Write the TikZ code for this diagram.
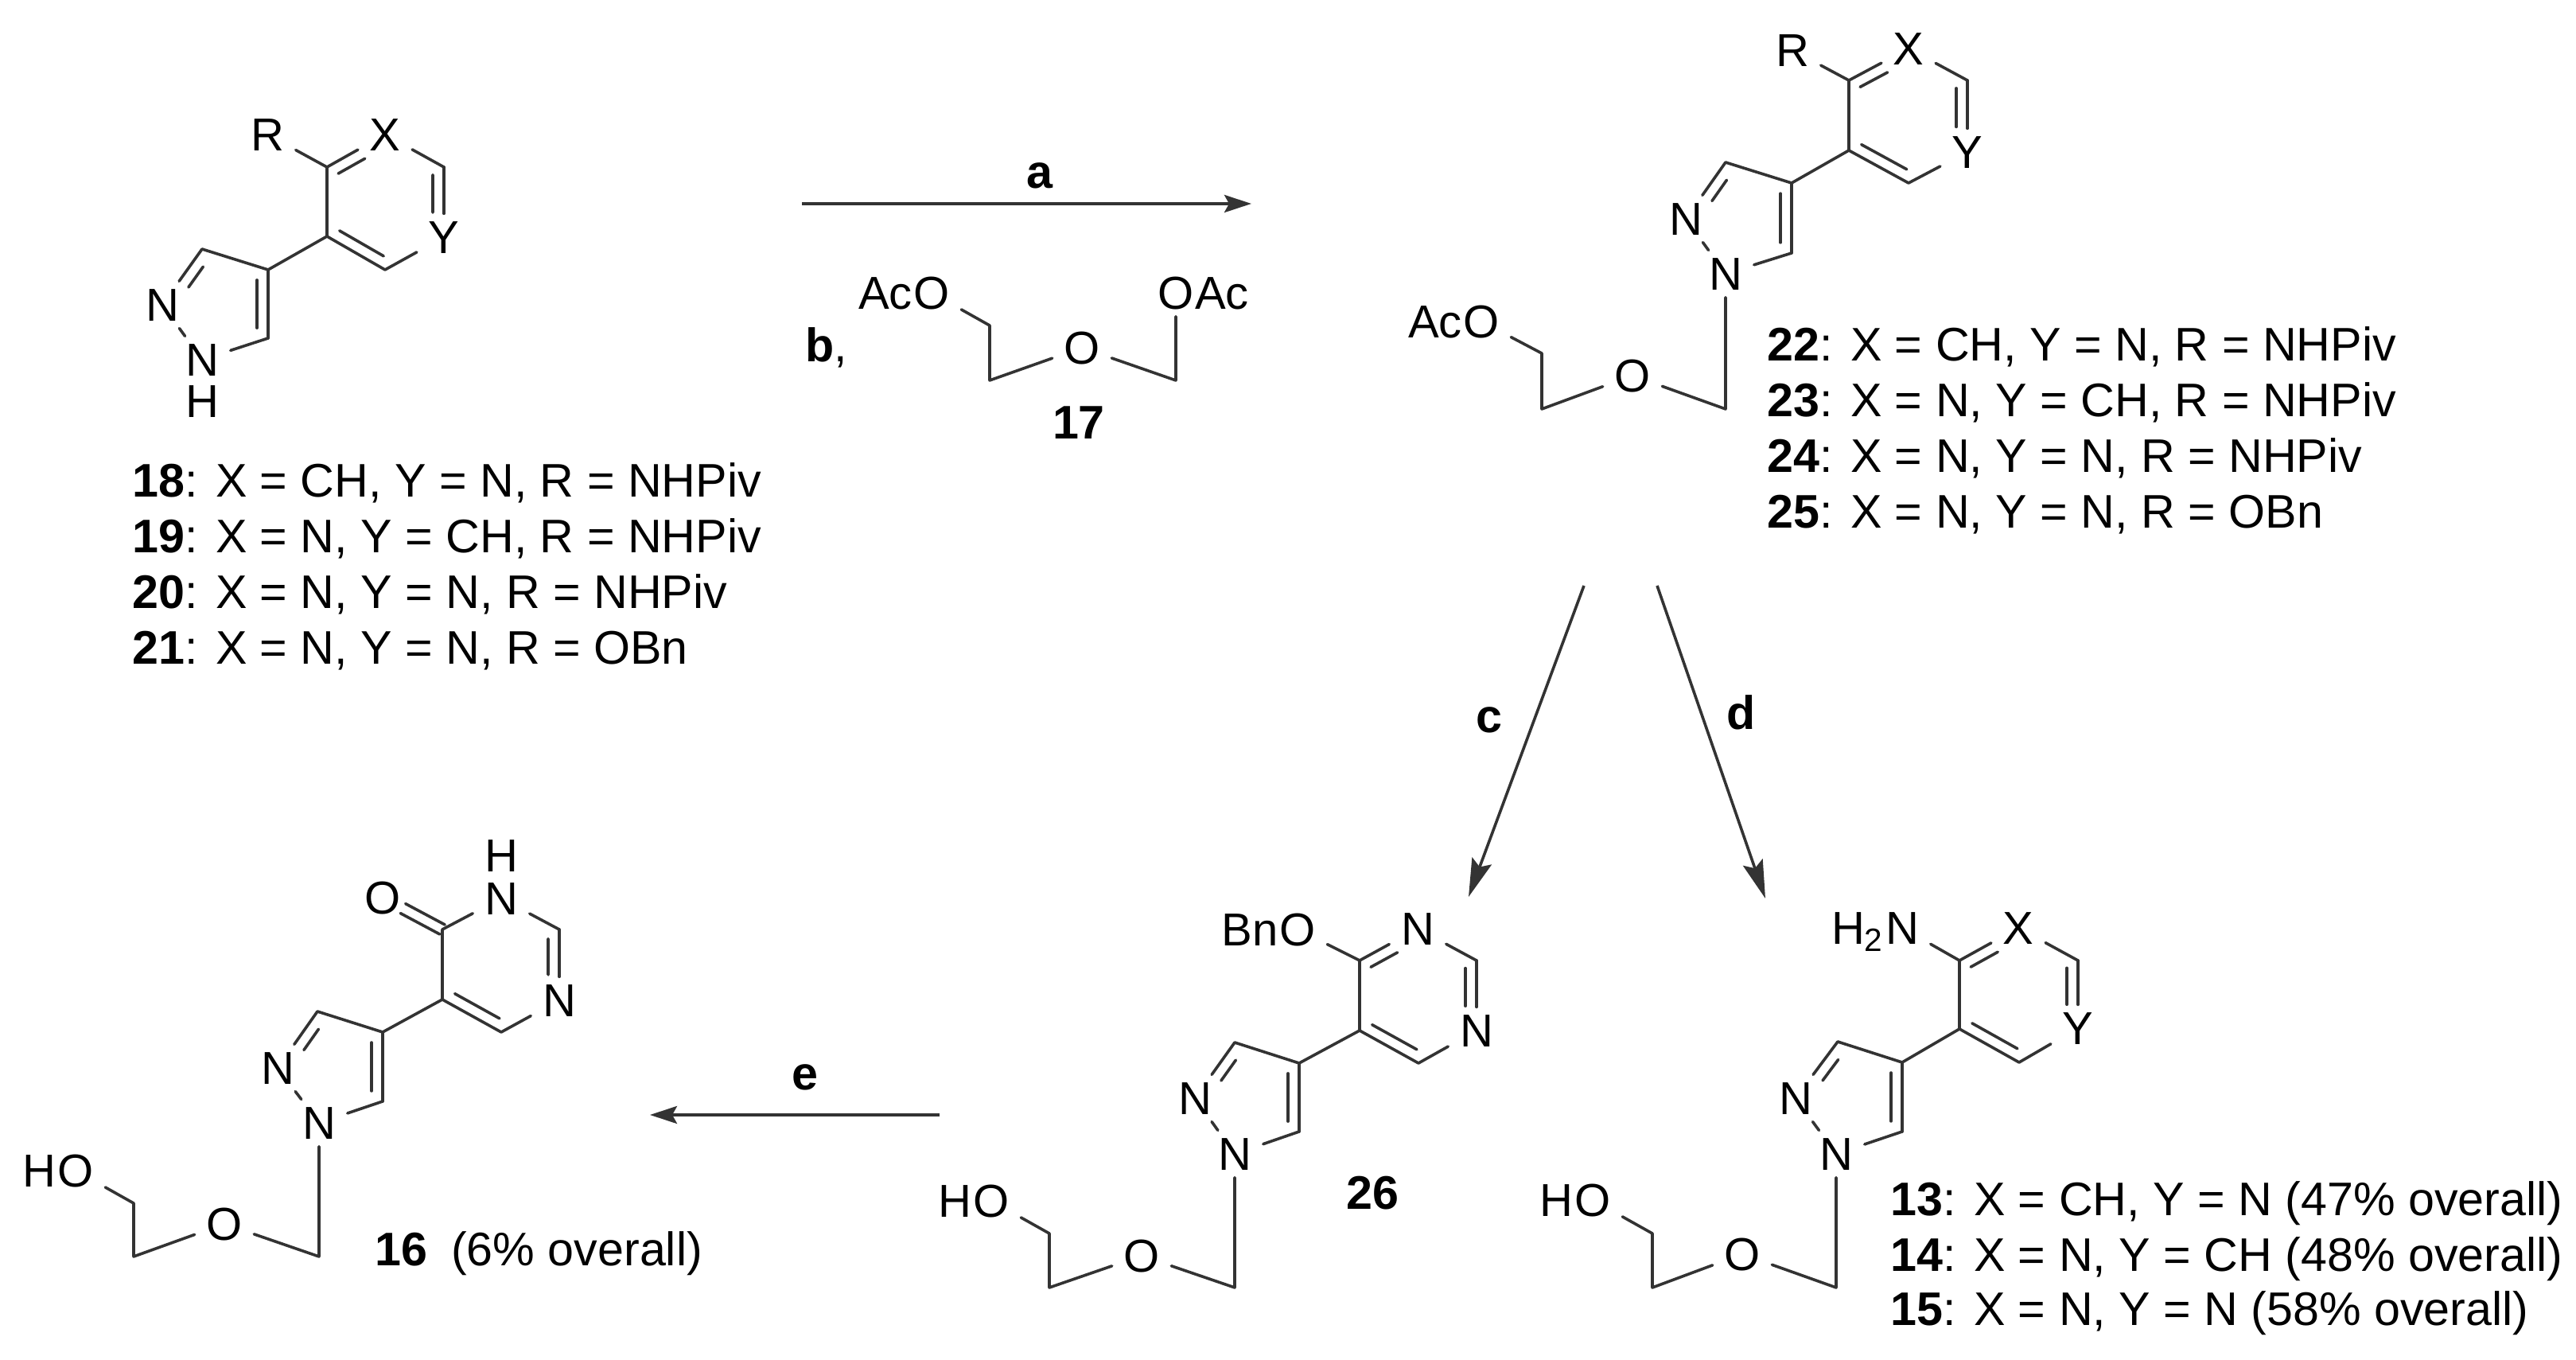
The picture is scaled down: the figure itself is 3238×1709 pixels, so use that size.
\documentclass[tikz,border=0pt]{standalone}
\usepackage{fontspec}
\setmainfont{Liberation Sans}
\usetikzlibrary{arrows.meta,positioning,calc}

\tikzset{
    atom/.style={font=\fontsize{14.5}{16}\selectfont, text height=10.4pt, text depth=0pt, inner xsep=3.5pt, inner ysep=2pt},
    atomhead/.style={atom, inner xsep=0pt},
    atomtop/.style={atom, inner ysep=0pt},
    cmpd/.style={font=\fontsize{14.8}{17}\selectfont, text height=10.6pt, text depth=0pt, inner sep=0pt, anchor=west},
    bond/.style={draw=black!80, line width=0.9pt, line cap=round, line join=round},
    rxn/.style={draw=black!80, line width=0.9pt, -{Stealth[length=8.5pt,width=5.5pt,inset=1.5pt]}},
    rxnbig/.style={draw=black!80, line width=0.9pt, -{Stealth[length=12pt,width=6.5pt,inset=2pt]}}
}

% double bond: full line a--b, second line inset on the ring side
\newcommand{\dbl}[5]{
    \draw[bond] (#1) -- (#2);
    \draw[bond] ($(#1)!#4!(#2)!#3!90:(#2)$) -- ($(#2)!#5!(#1)!#3!-90:(#1)$);
}
% aryl to pyrazole part
\newcommand{\pzring}[1]{
    \draw[bond] (#1j) -- (#1pc) -- (#1pt);
    \dbl{#1pc}{#1pb}{-3.5pt}{.15}{.15}
    \dbl{#1n2}{#1pt}{-3.5pt}{.43}{.2}
    \draw[bond] (#1pb) -- (#1n1) -- (#1n2);
}
% side chain on the pyrazole N
\newcommand{\tail}[1]{
    \draw[bond] (#1n1) -- (#1ca) -- (#1eo) -- (#1cb) -- (#1cc) -- (#1to);
}

\begin{document}
\begin{tikzpicture}[x=0.25pt,y=-0.25pt]
    \useasboundingbox (0,0) rectangle (3238,1709);

    % 18-21
    \node[atom] (sR) at (336,169) {R};
    \node[atom] (sX) at (484,169) {X};
    \node[atom] (sY) at (558,298) {Y};
    \node[atom] (sn2) at (204,383) {N};
    \node[atom] (sn1) at (254,452) {N};
    \node[atomtop] (sH) at (254,504) {H};
    \coordinate (sc1) at (411,210);
    \coordinate (sc2) at (558,210);
    \coordinate (sc6) at (484,339);
    \coordinate (sj) at (411,297);
    \coordinate (spc) at (337,339);
    \coordinate (spt) at (254,313);
    \coordinate (spb) at (337,425);
    \draw[bond] (sR) -- (sc1) -- (sj);
    \dbl{sc1}{sX}{-3.5pt}{.1}{.44}
    \draw[bond] (sX) -- (sc2);
    \dbl{sc2}{sY}{-3.5pt}{.11}{.35}
    \draw[bond] (sY) -- (sc6);
    \dbl{sc6}{sj}{-3.5pt}{.12}{.12}
    \pzring{s}
    \node[cmpd] (l18) at (166,603) {\textbf{18}: X = CH, Y = N, R = NHPiv};
    \node[cmpd] (l19) at (166,673) {\textbf{19}: X = N, Y = CH, R = NHPiv};
    \node[cmpd] (l20) at (166,743) {\textbf{20}: X = N, Y = N, R = NHPiv};
    \node[cmpd] (l21) at (166,813) {\textbf{21}: X = N, Y = N, R = OBn};

    % step a, b
    \node[cmpd, anchor=center] (la) at (1307,215) {\textbf{a}};
    \coordinate (ra1) at (1008,256);
    \coordinate (ra2) at (1573,256);
    \draw[rxn] (ra1) -- (ra2);
    \node[cmpd] (lb) at (1012,433) {\textbf{b},};
    \node[atom] (rO1) at (1171,368) {O};
    \node[atomhead, left=-3.5pt of rO1] (rAc1) {Ac};
    \node[atom] (rO2) at (1478,368) {O};
    \node[atomhead, right=-3.5pt of rO2] (rAc2) {Ac};
    \node[atom] (rO) at (1360,437) {O};
    \coordinate (rc1) at (1244,409);
    \coordinate (rc2) at (1244,478);
    \coordinate (rc3) at (1478,478);
    \draw[bond] (rO1) -- (rc1) -- (rc2) -- (rO) -- (rc3) -- (rO2);
    \node[cmpd, anchor=center] (l17) at (1356,530) {\textbf{17}};

    % 22-25
    \node[atom] (pR) at (2253,63) {R};
    \node[atom] (pX) at (2399,61) {X};
    \node[atom] (pY) at (2473,191) {Y};
    \node[atom] (pn2) at (2119,275) {N};
    \node[atom] (pn1) at (2169,344) {N};
    \node[atom] (peo) at (2052,472) {O};
    \node[atom] (pto) at (1862,404) {O};
    \node[atomhead, left=-3.5pt of pto] (pAc) {Ac};
    \coordinate (pc1) at (2324,101);
    \coordinate (pc2) at (2473,101);
    \coordinate (pc6) at (2399,230);
    \coordinate (pj) at (2324,189);
    \coordinate (ppc) at (2252,230);
    \coordinate (ppt) at (2169,204);
    \coordinate (ppb) at (2252,318);
    \coordinate (pca) at (2169,514);
    \coordinate (pcb) at (1938,514);
    \coordinate (pcc) at (1938,444);
    \draw[bond] (pR) -- (pc1) -- (pj);
    \dbl{pc1}{pX}{-3.5pt}{.1}{.44}
    \draw[bond] (pX) -- (pc2);
    \dbl{pc2}{pY}{-3.5pt}{.11}{.35}
    \draw[bond] (pY) -- (pc6);
    \dbl{pc6}{pj}{-3.5pt}{.12}{.12}
    \pzring{p}
    \tail{p}
    \node[cmpd] (l22) at (2221,432) {\textbf{22}: X = CH, Y = N, R = NHPiv};
    \node[cmpd] (l23) at (2221,502) {\textbf{23}: X = N, Y = CH, R = NHPiv};
    \node[cmpd] (l24) at (2221,572) {\textbf{24}: X = N, Y = N, R = NHPiv};
    \node[cmpd] (l25) at (2221,642) {\textbf{25}: X = N, Y = N, R = OBn};

    % steps c, d
    \coordinate (rc0) at (1991,736);
    \coordinate (rc9) at (1846,1127);
    \coordinate (rd0) at (2083,736);
    \coordinate (rd9) at (2219,1129);
    \draw[rxnbig] (rc0) -- (rc9);
    \draw[rxnbig] (rd0) -- (rd9);
    \node[cmpd, anchor=center] (lc) at (1872,899) {\textbf{c}};
    \node[cmpd, anchor=center] (ld) at (2189,895) {\textbf{d}};

    % 13-15
    \node[atom] (qN) at (2391,1166) {N};
    \node[atomhead, left=-3.5pt of qN] (qH) {H\textsubscript{2}};
    \node[atom] (qX) at (2537,1166) {X};
    \node[atom] (qY) at (2612,1292) {Y};
    \node[atom] (qn2) at (2257,1380) {N};
    \node[atom] (qn1) at (2308,1450) {N};
    \node[atom] (qeo) at (2190,1576) {O};
    \node[atom] (qto) at (2002,1508) {O};
    \node[atomhead, left=-3.5pt of qto] (qHO) {H};
    \coordinate (qc1) at (2463,1207);
    \coordinate (qc2) at (2612,1207);
    \coordinate (qc6) at (2538,1335);
    \coordinate (qj) at (2463,1293);
    \coordinate (qpc) at (2391,1335);
    \coordinate (qpt) at (2310,1309);
    \coordinate (qpb) at (2391,1422);
    \coordinate (qca) at (2308,1618);
    \coordinate (qcb) at (2077,1618);
    \coordinate (qcc) at (2077,1550);
    \draw[bond] (qN) -- (qc1) -- (qj);
    \dbl{qc1}{qX}{-3.5pt}{.1}{.44}
    \draw[bond] (qX) -- (qc2);
    \dbl{qc2}{qY}{-3.5pt}{.11}{.35}
    \draw[bond] (qY) -- (qc6);
    \dbl{qc6}{qj}{-3.5pt}{.12}{.12}
    \pzring{q}
    \tail{q}
    \node[cmpd] (l13) at (2376,1506) {\textbf{13}: X = CH, Y = N (47\% overall)};
    \node[cmpd] (l14) at (2376,1576) {\textbf{14}: X = N, Y = CH (48\% overall)};
    \node[cmpd] (l15) at (2376,1644) {\textbf{15}: X = N, Y = N (58\% overall)};

    % 26
    \node[atom] (bO) at (1631,1168) {O};
    \node[atomhead, left=-3.5pt of bO] (bBn) {Bn};
    \node[atom] (bN3) at (1782,1167) {N};
    \node[atom] (bN1) at (1856,1295) {N};
    \node[atom] (bn2) at (1502,1380) {N};
    \node[atom] (bn1) at (1552,1450) {N};
    \node[atom] (beo) at (1435,1578) {O};
    \node[atom] (bto) at (1246,1509) {O};
    \node[atomhead, left=-3.5pt of bto] (bHO) {H};
    \coordinate (bc4) at (1709,1207);
    \coordinate (bc2) at (1856,1207);
    \coordinate (bc6) at (1783,1336);
    \coordinate (bj) at (1709,1295);
    \coordinate (bpc) at (1633,1336);
    \coordinate (bpt) at (1552,1310);
    \coordinate (bpb) at (1633,1422);
    \coordinate (bca) at (1552,1618);
    \coordinate (bcb) at (1319,1618);
    \coordinate (bcc) at (1319,1550);
    \draw[bond] (bO) -- (bc4) -- (bj);
    \dbl{bc4}{bN3}{-3.5pt}{.1}{.44}
    \draw[bond] (bN3) -- (bc2);
    \dbl{bc2}{bN1}{-3.5pt}{.11}{.35}
    \draw[bond] (bN1) -- (bc6);
    \dbl{bc6}{bj}{-3.5pt}{.12}{.12}
    \pzring{b}
    \tail{b}
    \node[cmpd, anchor=center] (l26) at (1725,1498) {\textbf{26}};

    % step e
    \coordinate (re0) at (1181,1401);
    \coordinate (re9) at (817,1401);
    \draw[rxn] (re0) -- (re9);
    \node[cmpd, anchor=center] (le) at (1012,1348) {\textbf{e}};

    % 16
    \node[atomtop] (kH) at (630,1075) {H};
    \node[atom] (kN3) at (630,1129) {N};
    \node[atom] (kO) at (481,1128) {O};
    \node[atom] (kN1) at (703,1257) {N};
    \node[atom] (kn2) at (349,1342) {N};
    \node[atom] (kn1) at (401,1411) {N};
    \node[atom] (keo) at (282,1538) {O};
    \node[atom] (kto) at (95,1471) {O};
    \node[atomhead, left=-3.5pt of kto] (kHO) {H};
    \coordinate (kc4) at (556,1168);
    \coordinate (kc2) at (703,1168);
    \coordinate (kc6) at (630,1297);
    \coordinate (kj) at (556,1256);
    \coordinate (kpc) at (481,1297);
    \coordinate (kpt) at (399,1271);
    \coordinate (kpb) at (481,1384);
    \coordinate (kca) at (401,1579);
    \coordinate (kcb) at (168,1579);
    \coordinate (kcc) at (168,1512);
    \draw[bond] ($(kc4)!1.7pt!90:(kO)$) -- ($(kc4)!.66!(kO)!1.7pt!90:(kO)$);
    \draw[bond] ($(kc4)!1.7pt!-90:(kO)$) -- ($(kc4)!.66!(kO)!1.7pt!-90:(kO)$);
    \draw[bond] (kj) -- (kc4) -- (kN3) -- (kc2);
    \dbl{kc2}{kN1}{-3.5pt}{.13}{.36}
    \draw[bond] (kN1) -- (kc6);
    \dbl{kc6}{kj}{-3.5pt}{.12}{.12}
    \pzring{k}
    \tail{k}
    \node[cmpd] (l16) at (471,1569) {\textbf{16}\hspace{.5em}(6\% overall)};
\end{tikzpicture}
\end{document}
